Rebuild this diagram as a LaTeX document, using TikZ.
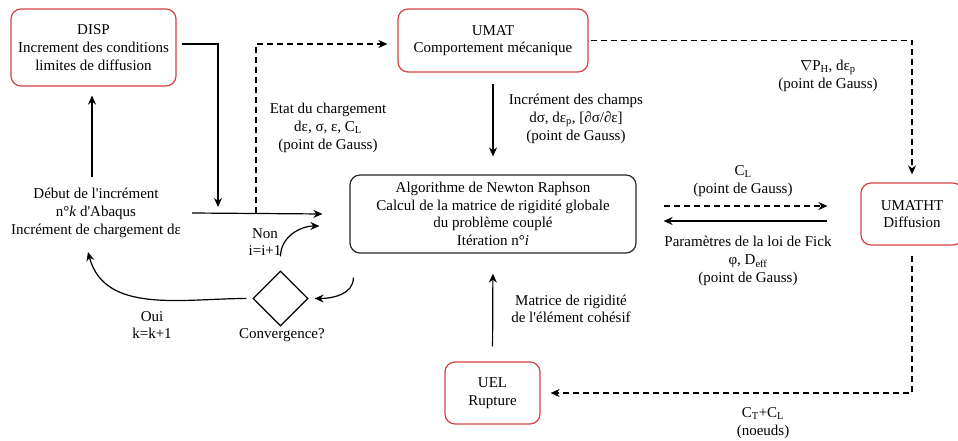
\documentclass[tikz,border=0pt]{standalone}
\usepackage{fontspec}
\setmainfont{Liberation Serif}
\usetikzlibrary{arrows.meta,shapes.geometric}
\definecolor{boxred}{RGB}{214,64,64}
\begin{document}
\begin{tikzpicture}[x=1pt,y=-1pt,
  every node/.style={font=\fontsize{15}{17.7}\selectfont, align=center, inner sep=0pt},
  redbox/.style={draw=boxred, line width=1.2pt, rounded corners=10pt},
  blackbox/.style={draw=black!85, line width=1.2pt, rounded corners=10pt},
  conn/.style={line width=1.2pt, -{Stealth[length=9pt,width=8pt]}},
  dconn/.style={conn, dash pattern=on 6pt off 4pt}]
\useasboundingbox (0,0) rectangle (958,441);
\clip (0,0) rectangle (958,441);
% boxes
\node[redbox, minimum width=165pt, minimum height=77pt] (disp) at (93.5,47.5)
  {DISP\\ Increment des conditions\\ limites de diffusion};
\node[redbox, minimum width=190pt, minimum height=63pt] (umat) at (493,40.5)
  {UMAT\\ Comportement mécanique};
\node[blackbox, minimum width=286pt, minimum height=78pt] (newton) at (493,214)
  {Algorithme de Newton Raphson\\ Calcul de la matrice de rigidité globale\\ du problème couplé\\ Itération n°\textit{i}};
\node[redbox, minimum width=102pt, minimum height=62pt] (umatht) at (912,214)
  {UMATHT\\ Diffusion};
\node[redbox, minimum width=95pt, minimum height=62pt] (uel) at (492.5,393)
  {UEL\\ Rupture};
\node[draw, line width=1.2pt, diamond, minimum width=55pt, minimum height=55pt] (dia) at (280.5,298.5) {};
% text nodes
\node (deb) at (96,213) {Début de l\textquotesingle incrément\\ n°\textit{k} d\textquotesingle Abaqus\\ Incrément de chargement dε};
\node (etat) at (328,128) {Etat du chargement\\ dε, σ, ε, C\textsubscript{L}\\ (point de Gauss)};
\node (incr) at (576,119) {Incrément des champs\\ dσ, dε\textsubscript{p}, [∂σ/∂ε]\\ (point de Gauss)};
\node (grad) at (828,76) {$\nabla$P\textsubscript{H}, dε\textsubscript{p}\\ (point de Gauss)};
\node (cl) at (743,181) {C\textsubscript{L}\\ (point de Gauss)};
\node (fick) at (748,261) {Paramètres de la loi de Fick\\ φ, D\textsubscript{eff}\\ (point de Gauss)};
\node (mat) at (571,309) {Matrice de rigidité\\ de l\textquotesingle élément cohésif};
\node (non) at (265,242) {Non\\ i=i+1};
\node (conv) at (282,335) {Convergence?};
\node (oui) at (152,325) {Oui\\ k=k+1};
\node (ct) at (763,423) {C\textsubscript{T}+C\textsubscript{L}\\ (noeuds)};
% coordinates
\coordinate (a1) at (218,207);
\coordinate (b0) at (92,177);
\coordinate (m0) at (192,213);
\coordinate (m1) at ([xshift=-27pt]newton.west);
\coordinate (d0) at (256,213);
\coordinate (c1) at (88,252);
% connectors
\draw[conn] ([xshift=5pt,yshift=3.5pt]disp.east) -| (a1);
\draw[conn] (b0) -- ([xshift=-1.5pt,yshift=-9pt]disp.south);
\draw[conn] (m0) -- (m1);
\draw[dconn] (d0) |- ([xshift=-10pt,yshift=-3.5pt]umat.west);
\draw[conn, shorten <=11pt, shorten >=18pt] (umat.south) -- (newton.north);
\draw[dconn] ([xshift=2pt]umat.east) -| ([yshift=8pt]umatht.north);
\draw[dconn] ([xshift=27pt,yshift=8pt]newton.east) -- ([xshift=-33pt,yshift=8pt]umatht.west);
\draw[conn] ([xshift=-33pt,yshift=-7pt]umatht.west) -- ([xshift=27pt,yshift=-7pt]newton.east);
\draw[dconn, shorten <=10pt, shorten >=10pt] (umatht.south) |- (uel.east);
\draw[conn, shorten <=15pt, shorten >=20pt] (uel.north) -- (newton.south);
\draw[conn] ([xshift=4pt,yshift=-24pt]newton.south west) to[out=-90,in=0] ([xshift=6pt]dia.east);
\draw[conn] ([xshift=-6pt]dia.west) to[out=180,in=-75] (c1);
\draw[conn] ([yshift=14pt]dia.north) to[out=90,in=180] ([xshift=-30pt,yshift=-12pt]newton.west);
\end{tikzpicture}
\end{document}
